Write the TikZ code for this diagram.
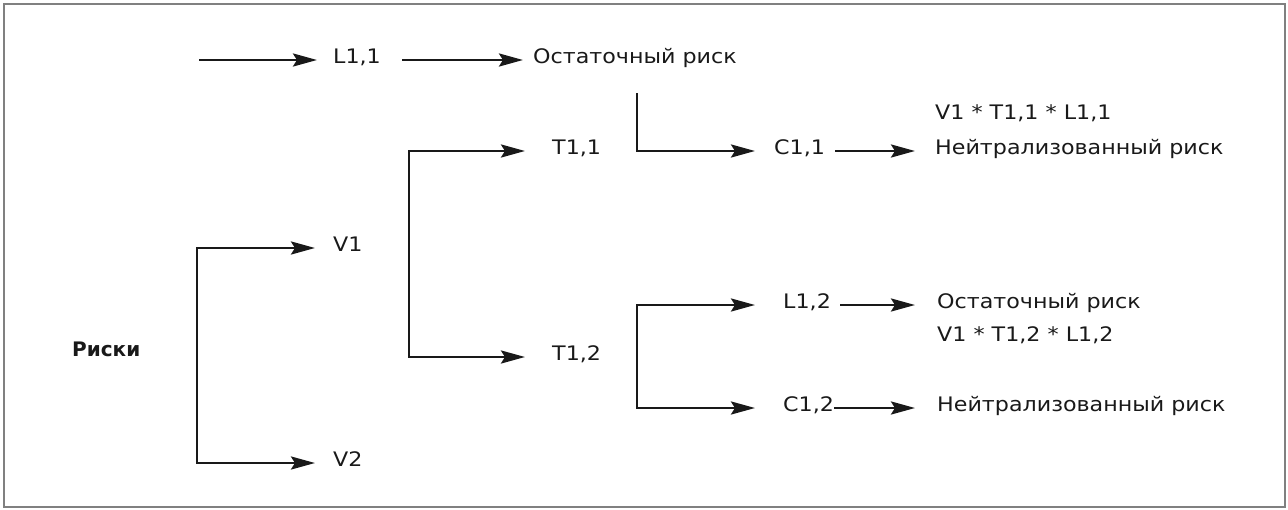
\documentclass[tikz,border=0pt]{standalone}
\usepackage{fontspec}
\setmainfont{DejaVu Sans}[FakeStretch=1.11]
\newfontfamily\headfont{DejaVu Sans}
\usetikzlibrary{arrows.meta}
\begin{document}
\begin{tikzpicture}[x=1pt,y=-1pt,
  lbl/.style={anchor=west,inner sep=0pt,text height=0.73em,text depth=0pt,font=\fontsize{20}{23}\selectfont,text=black!90},
  arr/.style={draw=black!90,line width=2.9pt,-{Stealth[length=24pt,width=13pt,inset=4pt]}},
  frame/.style={draw=black!50,line width=1.3pt}]
\useasboundingbox (0,0) rectangle (1288,509);
\draw[frame] (4,4) rectangle (1285,507);

% labels
\node[lbl] (L11) at (333,60) {L1,1};
\node[lbl] (O1) at (533,60) {Остаточный риск};
\node[lbl] (T11) at (552,151) {T1,1};
\node[lbl] (C11) at (774,151) {C1,1};
\node[lbl] (F1) at (935,116) {V1 * T1,1 * L1,1};
\node[lbl] (N1) at (935,151) {Нейтрализованный риск};
\node[lbl] (V1) at (333,248) {V1};
\node[lbl] (V2) at (333,463) {V2};
\node[lbl,font=\fontsize{20}{23}\headfont\bfseries] (R) at (72,353) {Риски};
\node[lbl] (T12) at (552,357) {T1,2};
\node[lbl] (L12) at (783,305) {L1,2};
\node[lbl] (O2) at (937,305) {Остаточный риск};
\node[lbl] (F2) at (937,338) {V1 * T1,2 * L1,2};
\node[lbl] (C12) at (783,408) {C1,2};
\node[lbl] (N2) at (937,408) {Нейтрализованный риск};

% free ends and bracket spines
\coordinate (s0) at (199,60);
\coordinate (k1) at (637,93);
\coordinate (vm) at (197,355);
\coordinate (tm) at (409,254);
\coordinate (lm) at (637,356);

% connectors
\draw[arr,shorten >=16pt] (s0) -- (L11.west);
\draw[arr,shorten <=21pt,shorten >=10pt] (L11.east) -- (O1.west);
\draw[arr,shorten >=19pt] (k1) |- (C11.west);
\draw[arr,shorten <=10pt,shorten >=20pt] (C11.east) -- (N1.west);
\draw[arr,shorten >=18pt] (vm) |- (V1.west);
\draw[arr,shorten >=18pt] (vm) |- (V2.west);
\draw[arr,shorten >=27pt] (tm) |- (T11.west);
\draw[arr,shorten >=27pt] (tm) |- (T12.west);
\draw[arr,shorten >=28pt] (lm) |- (L12.west);
\draw[arr,shorten >=28pt] (lm) |- (C12.west);
\draw[arr,shorten <=9pt,shorten >=22pt] (L12.east) -- (O2.west);
\draw[arr,shorten >=22pt] (C12.east) -- (N2.west);
\end{tikzpicture}
\end{document}
